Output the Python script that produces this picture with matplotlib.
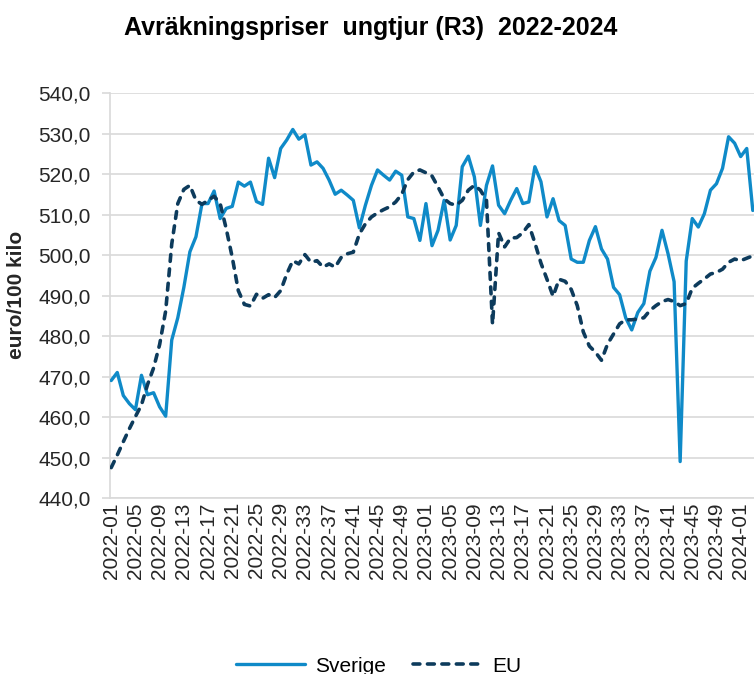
import matplotlib
matplotlib.use("Agg")
import matplotlib.pyplot as plt

plt.rcParams['font.family'] = ['Liberation Sans', 'DejaVu Sans']

weeks = ([f"2022-{w:02d}" for w in range(1, 53)] +
         [f"2023-{w:02d}" for w in range(1, 53)] +
         ["2024-01", "2024-02", "2024-03"])

sverige = [469.0, 471.0, 465.3, 463.3, 461.8, 470.3, 465.5, 466.0, 462.5, 460.2,
           479.0, 484.5, 492.0, 500.8, 504.5, 512.7, 512.7, 515.8, 509.0, 511.5,
           512.0, 518.0, 517.0, 518.0, 513.2, 512.5, 523.9, 519.1, 526.3, 528.4,
           531.0, 528.6, 529.7, 522.2, 523.0, 521.4, 518.5, 515.0, 516.0, 514.8,
           513.5, 506.7, 512.3, 517.2, 521.0, 519.7, 518.5, 520.7, 519.7, 509.4,
           509.0, 503.6, 512.7, 502.3, 506.1, 513.5, 503.7, 507.3, 521.8, 524.4,
           519.3, 507.3, 517.2, 522.0, 512.3, 510.2, 513.5, 516.4, 512.7, 513.1,
           521.8, 518.1, 509.4, 513.9, 508.5, 507.3, 499.0, 498.2, 498.2, 503.6,
           507.0, 501.5, 499.0, 492.0, 490.2, 484.5, 481.5, 485.8, 488.0, 496.0,
           499.4, 506.1, 500.3, 493.4, 449.0, 498.5, 509.0, 506.9, 510.2, 516.0,
           517.6, 521.4, 529.2, 527.6, 524.3, 526.3, 511.0]

eu = [447.5, 450.6, 453.9, 457.1, 460.1, 463.0, 468.0, 472.1, 477.9, 486.2,
      502.7, 512.7, 516.2, 517.2, 513.5, 512.5, 513.5, 514.5, 512.7, 506.5,
      499.4, 491.2, 487.8, 487.4, 490.3, 489.3, 490.2, 489.5, 491.2, 495.3,
      498.6, 497.8, 500.1, 498.2, 498.6, 497.0, 497.8, 497.0, 499.4, 500.3,
      500.7, 505.2, 507.7, 509.4, 510.4, 511.2, 511.9, 513.1, 515.0, 518.6,
      520.5, 521.0, 520.3, 519.5, 516.8, 513.9, 512.7, 512.3, 513.5, 516.0,
      517.2, 516.0, 513.5, 482.9, 505.5, 502.0, 504.2, 504.3, 505.5, 507.5,
      503.0, 498.0, 494.0, 489.8, 494.0, 493.5, 491.5, 487.5, 481.0, 477.5,
      476.0, 474.0, 478.0, 480.5, 483.0, 484.0, 484.0, 484.2, 484.5, 486.3,
      487.5, 488.5, 489.0, 488.5, 487.5, 488.0, 491.8, 493.0, 494.1, 495.3,
      495.7, 496.5, 498.2, 499.0, 498.6, 499.2, 499.8]

yticks = [440, 450, 460, 470, 480, 490, 500, 510, 520, 530, 540]
label_step = 4

W, H = 754, 674
fig = plt.figure(figsize=(W / 100, H / 100), dpi=100)
ax = fig.add_axes([110 / W, 176 / H, 644 / W, 405 / H])

x = list(range(len(weeks)))
ax.plot(x, sverige, color='#0F8AC8', lw=2.4, label='Sverige',
        solid_joinstyle='round', solid_capstyle='round', zorder=3)
ax.plot(x, eu, color='#0D3B5C', lw=2.6, label='EU',
        dashes=(1.9, 2.1), dash_capstyle='round', zorder=3)

ax.set_xlim(-0.2, 106.2)
ax.set_ylim(440, 540)
ax.set_yticks(yticks)
ax.set_yticklabels([f"{v:.1f}".replace('.', ',') for v in yticks])
ax.set_xticks(x[::label_step])
ax.set_xticklabels(weeks[::label_step], rotation=90, ha='center', va='top')

ax.grid(axis='y', color='#D9D9D9', lw=1.2, zorder=0)
for s in ['top', 'right']:
    ax.spines[s].set_visible(False)
for s in ['left', 'bottom']:
    ax.spines[s].set_color('#D9D9D9')
    ax.spines[s].set_linewidth(1.2)
ax.tick_params(axis='y', length=6, width=1.2, color='#D9D9D9', pad=8,
               labelsize=15, labelcolor='#262626')
ax.tick_params(axis='x', length=0, pad=3, labelsize=15, labelcolor='#262626')

ax.set_ylabel('euro/100 kilo', fontsize=15, fontweight='bold', color='#262626')
ax.yaxis.set_label_coords((26 - 110) / 644, (498 - 295) / 405)

fig.text(371 / W, 1 - 28 / H, 'Avräkningspriser  ungtjur (R3)  2022-2024',
         ha='center', va='center', fontsize=18, fontweight='bold', color='#000000')

fig.legend(loc='center', bbox_to_anchor=(379 / W, 8 / H), ncol=2, frameon=False,
           fontsize=15, handlelength=3.3, columnspacing=1.3, handletextpad=0.5)

fig.savefig('out.png', dpi=100)
